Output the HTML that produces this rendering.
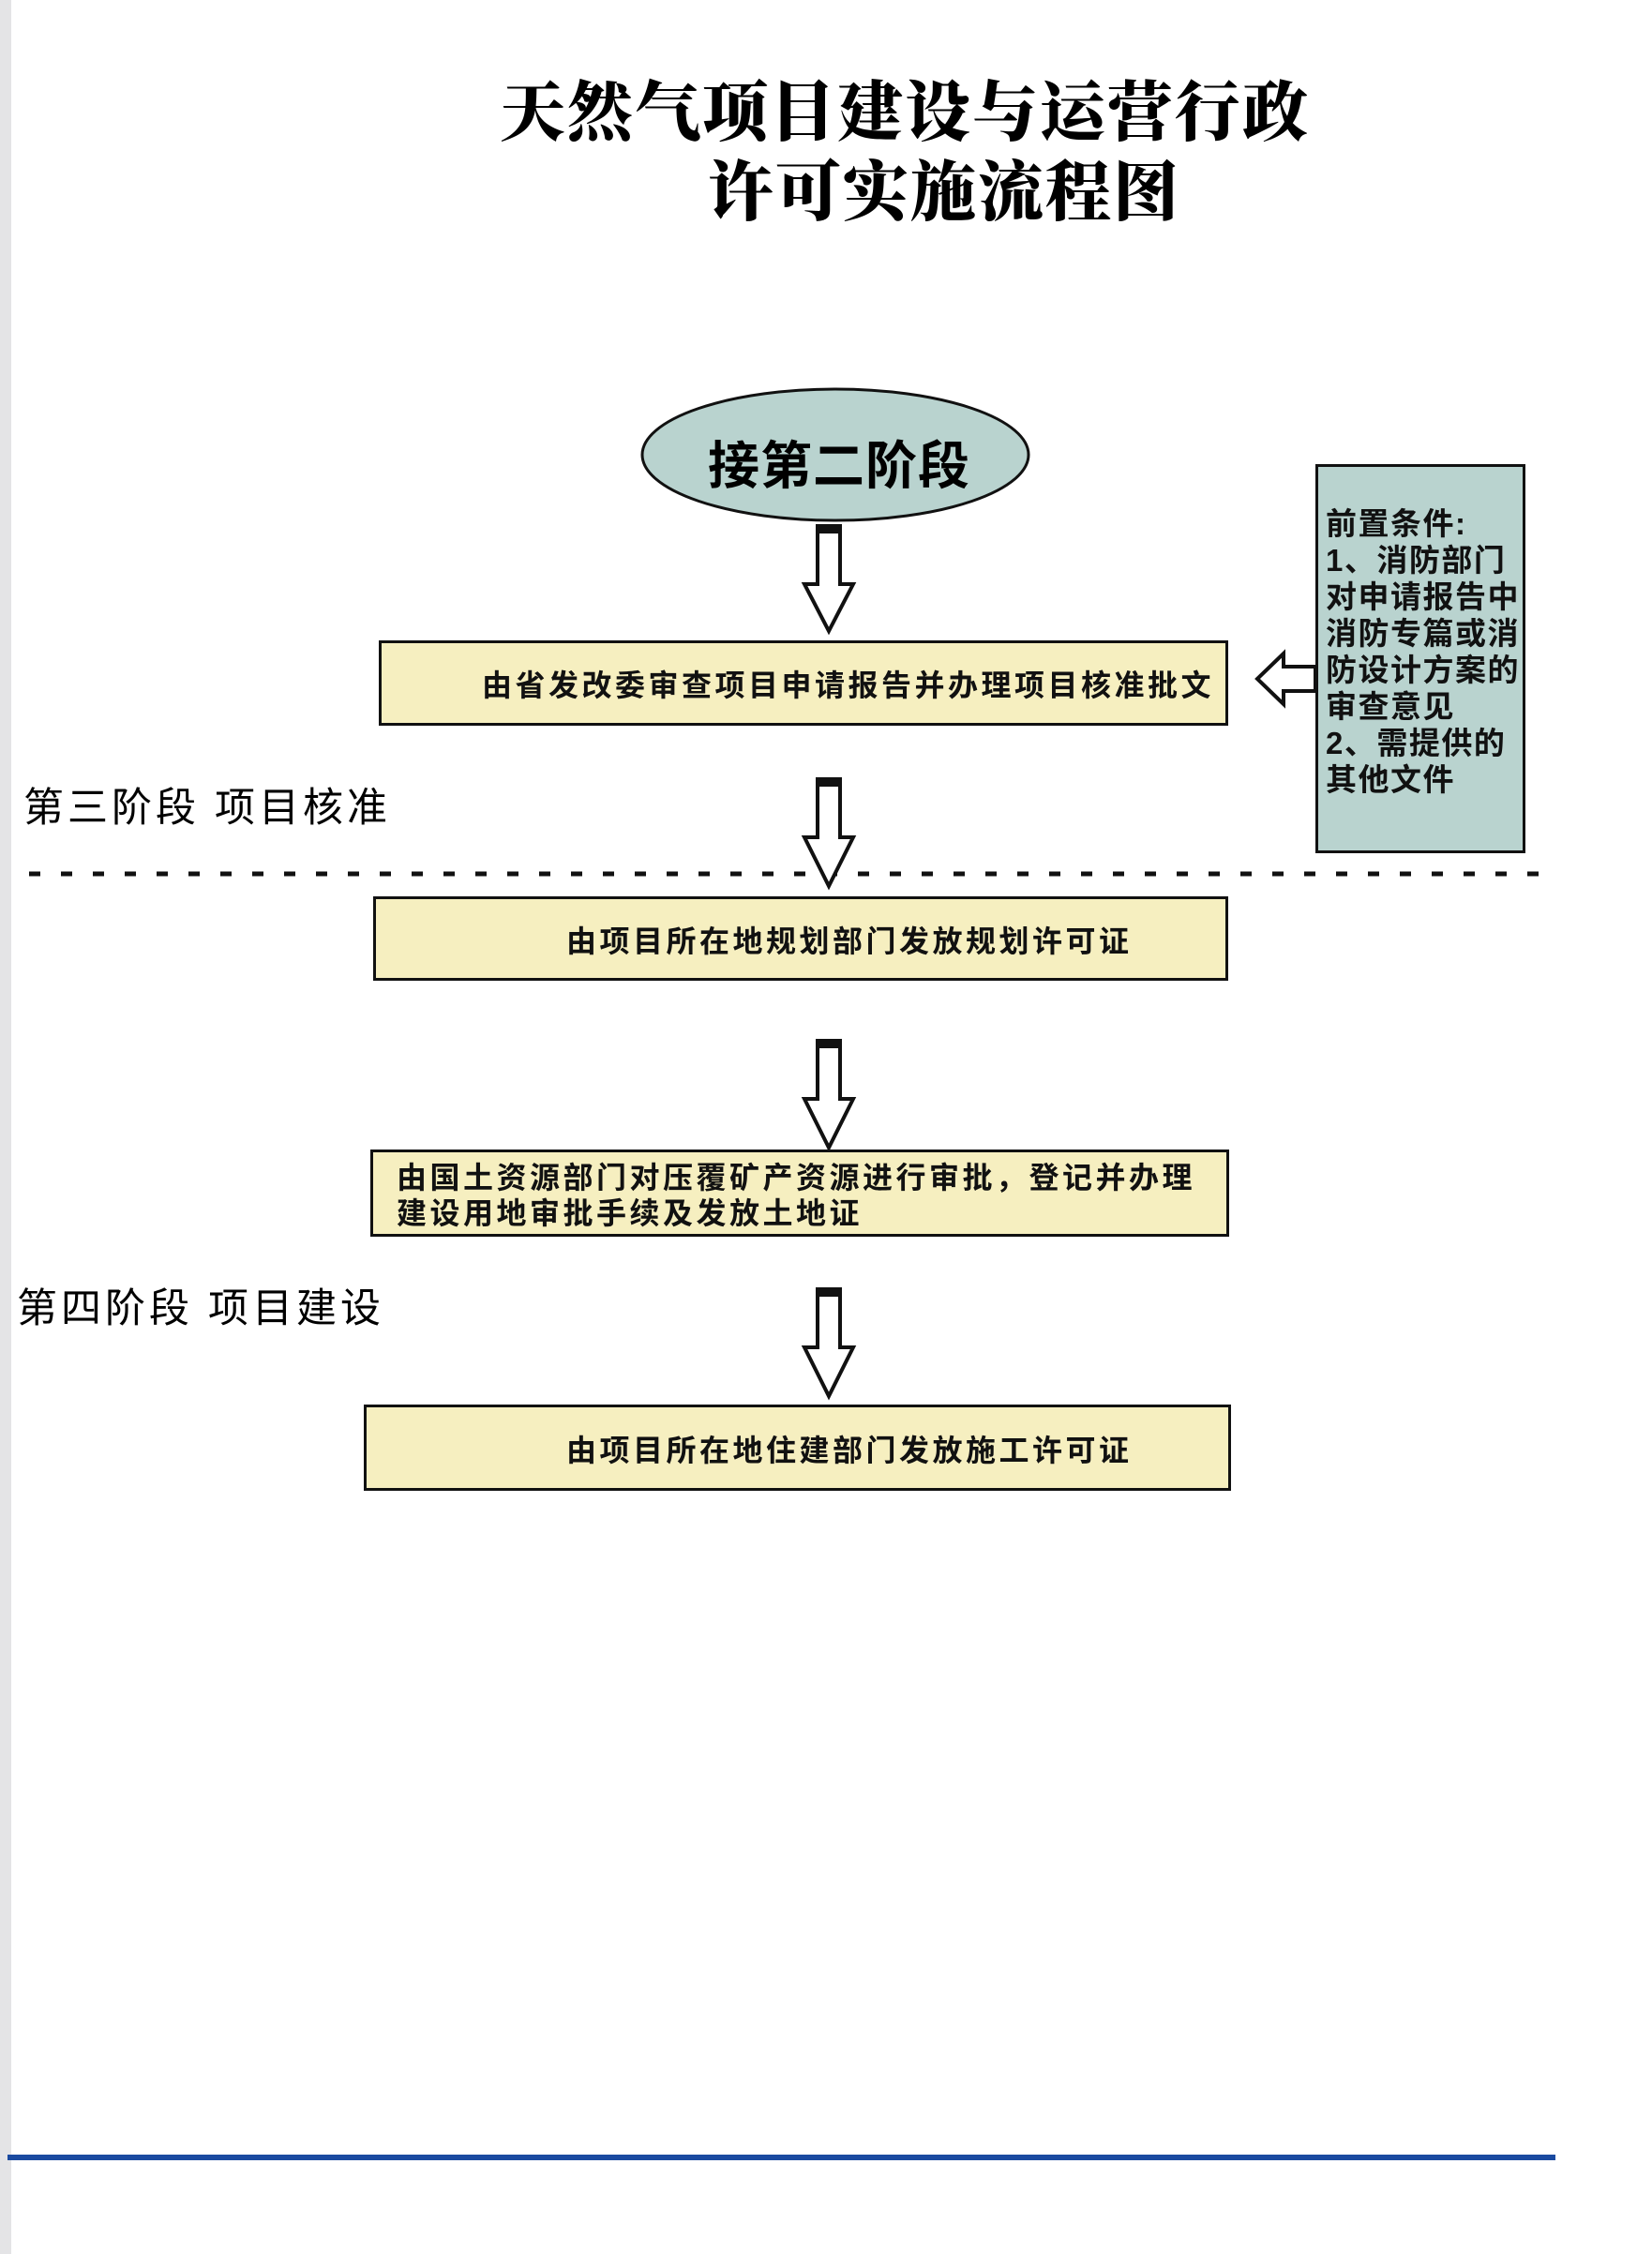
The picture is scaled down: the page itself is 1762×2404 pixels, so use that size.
<!DOCTYPE html>
<html><head><meta charset="utf-8"><style>
body{margin:0;width:1762px;height:2404px;background:#fff;position:relative;overflow:hidden;font-family:"Liberation Sans","Noto Sans CJK SC",sans-serif;}
.t{position:absolute;white-space:nowrap;}
.box{position:absolute;background:#f6efc0;border:3px solid #111;box-sizing:border-box;font-size:32px;letter-spacing:3.5px;color:#111;font-weight:bold;}
</style></head><body>
<div style="position:absolute;left:0;top:0;width:12px;height:2404px;background:#e4e4e6"></div>
<div class="t" style="left:533px;top:64px;font-family:'Noto Serif CJK SC',serif;font-weight:900;font-size:70px;letter-spacing:2px;">天然气项目建设与运营行政</div>
<div class="t" style="left:755px;top:149px;font-family:'Noto Serif CJK SC',serif;font-weight:900;font-size:70px;letter-spacing:2px;">许可实施流程图</div>

<svg width="1762" height="2404" style="position:absolute;left:0;top:0">
<ellipse cx="891" cy="485" rx="206" ry="70" fill="#b9d3cf" stroke="#111" stroke-width="3"/>
<line x1="31" y1="932" x2="1655" y2="932" stroke="#111" stroke-width="5" stroke-dasharray="12 22"/>
<g fill="#fff" stroke="#111" stroke-width="4" stroke-linejoin="miter">
<path d="M872 561 h24 v62 h14 l-26 50 l-26 -50 h14 z"/>
<path d="M872 831 h24 v62 h14 l-26 52 l-26 -52 h14 z"/>
<path d="M872 1110 h24 v62 h14 l-26 52 l-26 -52 h14 z"/>
<path d="M872 1375 h24 v62 h14 l-26 52 l-26 -52 h14 z"/>
<path d="M1403 711 v26 h-34 v14 l-28 -27 l28 -27 v14 z"/>
</g>
<g fill="#111"><rect x="872" y="561" width="24" height="8"/><rect x="872" y="831" width="24" height="8"/><rect x="872" y="1110" width="24" height="8"/><rect x="872" y="1375" width="24" height="8"/></g>
<line x1="8" y1="2301" x2="1659" y2="2301" stroke="#1a4aa0" stroke-width="6"/>
</svg>
<div class="t" style="left:755px;top:452px;font-size:55px;font-weight:bold;letter-spacing:1px;">接第二阶段</div>

<div class="box" style="left:404px;top:683px;width:906px;height:91px;"><span class="t" style="left:107px;top:20px;">由省发改委审查项目申请报告并办理项目核准批文</span></div>
<div style="position:absolute;left:1403px;top:495px;width:224px;height:415px;background:#b9d3cf;border:3px solid #111;box-sizing:border-box;font-size:33px;letter-spacing:1.5px;line-height:39px;padding:41px 0 0 8px;color:#111;font-weight:bold;white-space:nowrap;">前置条件:<br>1、消防部门<br>对申请报告中<br>消防专篇或消<br>防设计方案的<br>审查意见<br>2、需提供的<br>其他文件</div>

<div class="t" style="left:25px;top:827px;font-size:43px;letter-spacing:4px;">第三阶段 项目核准</div>
<div class="box" style="left:398px;top:956px;width:912px;height:90px;"><span class="t" style="left:203px;top:20px;">由项目所在地规划部门发放规划许可证</span></div>
<div class="box" style="left:395px;top:1226px;width:916px;height:93px;line-height:38px;padding:8px 0 0 25px;white-space:nowrap;">由国土资源部门对压覆矿产资源进行审批，登记并办理<br>建设用地审批手续及发放土地证</div>
<div class="t" style="left:18px;top:1361px;font-size:43px;letter-spacing:4px;">第四阶段 项目建设</div>
<div class="box" style="left:388px;top:1498px;width:925px;height:92px;"><span class="t" style="left:213px;top:21px;">由项目所在地住建部门发放施工许可证</span></div>
</body></html>
